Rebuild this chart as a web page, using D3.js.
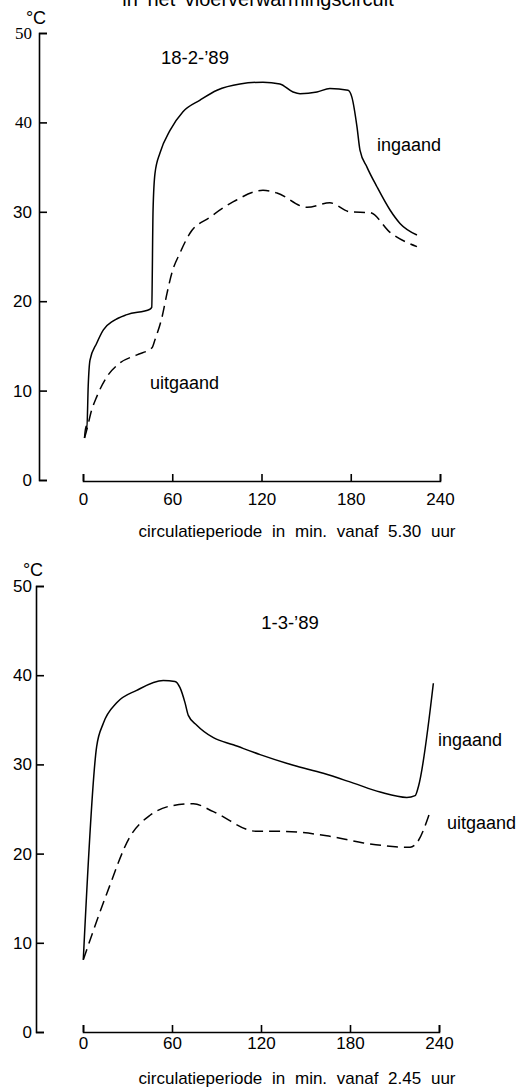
<!DOCTYPE html>
<html>
<head>
<meta charset="utf-8">
<script src="https://cdn.jsdelivr.net/npm/d3@7"></script>
<style>
  body { margin: 0; background: #fff; }
  svg { display: block; font-family: "Liberation Sans", Arial, sans-serif; }
</style>
</head>
<body>
<svg id="chart" width="517" height="1090"></svg>
<script>
// tick values
var xTicks = [0, 60, 120, 180, 240];
var yTicks = [0, 10, 20, 30, 40, 50];

// 18-2-'89 : [minuten, temperatuur]
var ingaand1 = [[1, 4.7], [2, 6.0], [2.6, 5.7], [3.5, 10.5], [4.7, 13.4], [9.2, 15.3], [13.7, 16.8],
  [20.4, 17.8], [29.6, 18.5], [45, 19.1], [46.2, 19.3], [47.1, 30.2], [48.4, 34.3], [51.8, 36.6],
  [58.5, 39.1], [67.2, 41.2], [78.7, 42.5], [90.1, 43.6], [105.5, 44.3], [121, 44.5], [132.4, 44.3],
  [141.2, 43.4], [145.9, 43.2], [157.3, 43.4], [166, 43.8], [178.2, 43.6], [180.8, 42.8],
  [184.2, 39.5], [186.2, 36.9], [190.9, 35.0], [197.6, 32.8], [206.4, 30.2], [213.1, 28.7], [224.5, 27.4]];
var uitgaand1 = [[1, 4.7], [2.2, 5.4], [5.8, 7.8], [9.2, 9.3], [15.9, 11.5], [24.9, 13.1], [36.3, 14.0],
  [46.4, 14.8], [48.4, 15.7], [53.1, 18.2], [56.5, 20.9], [59.8, 23.2], [65.2, 25.4], [71.9, 27.6],
  [85.4, 29.4], [100.8, 31.1], [121, 32.4], [130.4, 32.1], [150.6, 30.5], [166, 31.0], [179.5, 30.0],
  [193, 29.9], [206.4, 27.7], [224.5, 26.1]];

// 1-3-'89
var ingaand2 = [[0.2, 8.1], [9.2, 32.0], [13.7, 34.6], [22.7, 36.9], [36.2, 38.3], [54.1, 39.4],
  [62.0, 39.3], [65.4, 38.6], [68.8, 36.9], [71.0, 35.5], [76.7, 34.4], [87.9, 33.0], [101.3, 32.2],
  [119.4, 31.1], [141.8, 29.9], [162, 29.0], [182.3, 27.9], [200.3, 26.9], [218.3, 26.3],
  [223.9, 26.5], [226.1, 27.5], [236.2, 39.1]];
var uitgaand2 = [[0.2, 8.1], [16, 15.5], [31.7, 21.9], [45.2, 24.3], [60.9, 25.4], [74.4, 25.6],
  [87.9, 24.7], [117.1, 22.5], [132.8, 22.5], [164.3, 22.0], [189, 21.2], [220.5, 20.7],
  [225, 21.2], [234, 24.7]];

var svg = d3.select("#chart");

// titel bovenaan, deels afgesneden zoals in het origineel
svg.append("text")
  .attr("x", 258).attr("y", 6)
  .attr("text-anchor", "middle")
  .attr("font-size", 20)
  .attr("word-spacing", 4)
  .text("in het vloerverwarmingscircuit");

function panel(cfg) {
  var x = d3.scaleLinear().domain([0, 240]).range([cfg.x0, cfg.x1]);
  var y = d3.scaleLinear().domain([0, 50]).range([cfg.y0, cfg.y1]);
  var g = svg.append("g");

  // y-as, streepjes naar rechts
  var ya = g.append("g")
    .attr("transform", "translate(" + cfg.yAxisX + ",0)")
    .call(d3.axisLeft(y).tickValues(yTicks).tickSize(-8).tickSizeOuter(-8).tickPadding(cfg.yPad))
    .attr("font-size", 17)
    .attr("font-family", null);
  ya.selectAll("path, line").attr("stroke", "#000").attr("stroke-width", 1.6);
  ya.selectAll("text").attr("fill", "#000")
    .attr("font-family", function(d) { return cfg.serifTicks.indexOf(d) >= 0 ? "Liberation Serif, serif" : null; });

  // x-as, streepjes omhoog
  var xa = g.append("g")
    .attr("transform", "translate(0," + cfg.xAxisY + ")")
    .call(d3.axisBottom(x).tickValues(xTicks).tickSize(-7).tickSizeOuter(-7).tickPadding(cfg.xPad))
    .attr("font-size", 17)
    .attr("font-family", null);
  xa.selectAll("path, line").attr("stroke", "#000").attr("stroke-width", 1.6);
  xa.selectAll("text").attr("fill", "#000");

  var line = d3.line()
    .x(function(d) { return x(d[0]); })
    .y(function(d) { return y(d[1]); })
    .curve(d3.curveMonotoneX);

  g.append("path").datum(cfg.ingaand)
    .attr("d", line)
    .attr("fill", "none").attr("stroke", "#000").attr("stroke-width", 1.5);

  g.append("path").datum(cfg.uitgaand)
    .attr("d", line)
    .attr("fill", "none").attr("stroke", "#000").attr("stroke-width", 1.5)
    .attr("stroke-dasharray", "11,6");

  // labels
  g.append("text").attr("x", cfg.degX).attr("y", cfg.degY).attr("dy", "0.35em")
    .attr("text-anchor", "middle").attr("font-size", 18).text("°C");
  g.append("text").attr("x", cfg.titleX).attr("y", cfg.titleY).attr("dy", "0.35em")
    .attr("text-anchor", "middle").attr("font-size", 18.5).text(cfg.title);
  g.append("text").attr("x", cfg.inX).attr("y", cfg.inY).attr("dy", "0.35em")
    .attr("font-size", 18).text("ingaand");
  g.append("text").attr("x", cfg.uitX).attr("y", cfg.uitY).attr("dy", "0.35em")
    .attr("font-size", 18).text("uitgaand");
  g.append("text").attr("x", 297).attr("y", cfg.capY).attr("dy", "0.35em")
    .attr("text-anchor", "middle").attr("font-size", 17).attr("word-spacing", 5)
    .text(cfg.caption);
}

panel({
  x0: 83, x1: 440, y0: 480, y1: 33, yAxisX: 39, xAxisY: 481, yPad: 7, xPad: 12,
  serifTicks: [40, 50],
  ingaand: ingaand1, uitgaand: uitgaand1,
  degX: 36, degY: 18, title: "18-2-\u201989", titleX: 195, titleY: 58,
  inX: 377, inY: 145, uitX: 150, uitY: 383, capY: 531,
  caption: "circulatieperiode in min. vanaf 5.30 uur"
});

panel({
  x0: 83, x1: 439, y0: 1032, y1: 586, yAxisX: 36, xAxisY: 1032, yPad: 4, xPad: 5,
  serifTicks: [],
  ingaand: ingaand2, uitgaand: uitgaand2,
  degX: 33, degY: 570, title: "1-3-\u201989", titleX: 290, titleY: 623,
  inX: 438, inY: 740, uitX: 447, uitY: 823, capY: 1078,
  caption: "circulatieperiode in min. vanaf 2.45 uur"
});
</script>
</body>
</html>
